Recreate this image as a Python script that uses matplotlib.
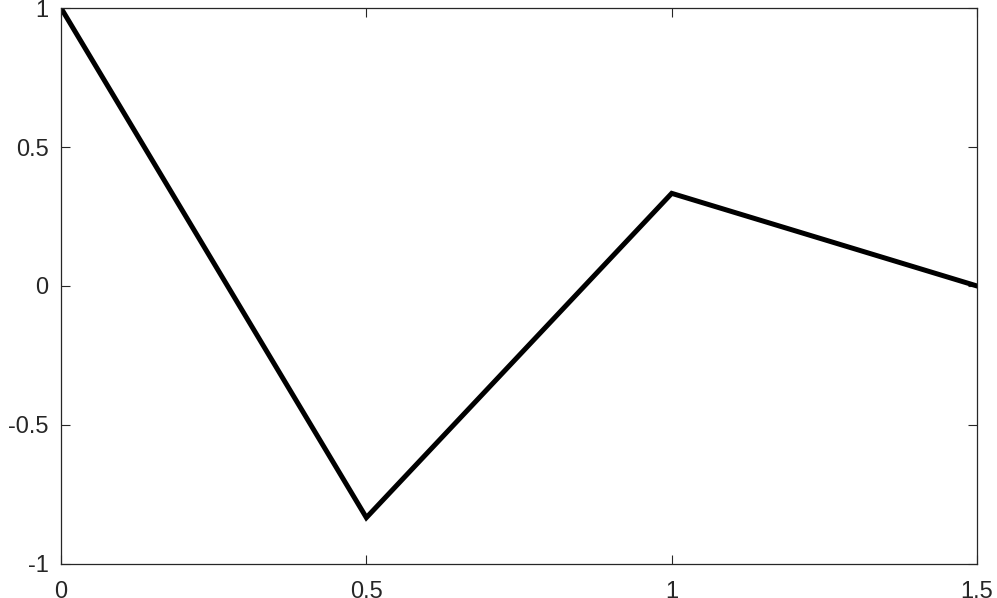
import matplotlib
matplotlib.use("Agg")
import matplotlib.pyplot as plt

# data
x = [0, 0.5, 1, 1.5]
y = [1, -0.8333, 0.3333, 0]
xticks = [0, 0.5, 1, 1.5]
xtick_labels = ["0", "0.5", "1", "1.5"]
yticks = [-1, -0.5, 0, 0.5, 1]
ytick_labels = ["-1", "-0.5", "0", "0.5", "1"]

plt.rcParams["font.family"] = ["Liberation Sans", "DejaVu Sans"]
axis_col = "#262626"

fig = plt.figure(figsize=(9.97, 5.98), dpi=100)
ax = fig.add_axes([0.0612, 0.0569, 0.9188, 0.9297])

ax.plot(x, y, color="black", linewidth=3.6, solid_joinstyle="miter")

ax.set_xlim(0, 1.5)
ax.set_ylim(-1, 1)
ax.set_xticks(xticks)
ax.set_xticklabels(xtick_labels)
ax.set_yticks(yticks)
ax.set_yticklabels(ytick_labels)

ax.tick_params(direction="in", length=6.5, width=0.8, colors=axis_col,
               labelsize=17, top=True, right=True)
ax.tick_params(axis="y", pad=9)
ax.tick_params(axis="x", pad=12)
for s in ax.spines.values():
    s.set_color(axis_col)
    s.set_linewidth(0.9)

fig.savefig("out.png", dpi=100)
